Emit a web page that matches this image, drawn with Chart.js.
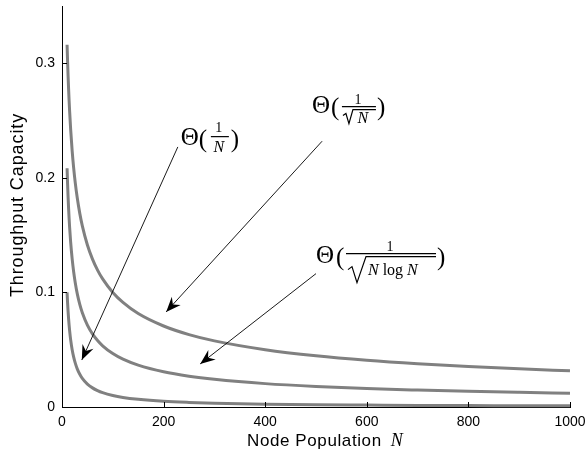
<!DOCTYPE html>
<html lang="en">
<head>
    <meta charset="UTF-8">
    <title>Throughput Capacity vs Node Population</title>
    <script src="https://cdn.jsdelivr.net/npm/chart.js"></script>
    <style>
        html, body { margin: 0; padding: 0; background: #fff; }
        #wrap { width: 588px; height: 454px; position: relative; }
    </style>
</head>
<body>
<div id="wrap"><canvas id="capacityChart"></canvas></div>

<script>
    // node counts sampled along the x axis
    const nodeCounts = [10, 11, 12, 13, 14, 15, 17, 20, 23, 26, 30, 35, 40, 50, 60, 70, 80, 100,
        120, 150, 200, 250, 300, 400, 500, 600, 700, 800, 900, 1000];

    // Θ(1/√N)
    const capSqrt = [0.3162, 0.3015, 0.2887, 0.2774, 0.2673, 0.2582, 0.2425, 0.2236, 0.2085, 0.1961,
        0.1826, 0.1690, 0.1581, 0.1414, 0.1291, 0.1195, 0.1118, 0.1000, 0.0913, 0.0816, 0.0707,
        0.0632, 0.0577, 0.0500, 0.0447, 0.0408, 0.0378, 0.0354, 0.0333, 0.0316];

    // Θ(1/√(N log N))
    const capSqrtLog = [0.2084, 0.1947, 0.1831, 0.1732, 0.1645, 0.1569, 0.1441, 0.1292, 0.1178, 0.1087,
        0.0990, 0.0896, 0.0823, 0.0715, 0.0638, 0.0580, 0.0534, 0.0466, 0.0417, 0.0365, 0.0307,
        0.0269, 0.0242, 0.0204, 0.0179, 0.0161, 0.0148, 0.0137, 0.0128, 0.0120];

    // Θ(1/N)
    const capInv = [0.1000, 0.0909, 0.0833, 0.0769, 0.0714, 0.0667, 0.0588, 0.0500, 0.0435, 0.0385,
        0.0333, 0.0286, 0.0250, 0.0200, 0.0167, 0.0143, 0.0125, 0.0100, 0.0083, 0.0067, 0.0050,
        0.0040, 0.0033, 0.0025, 0.0020, 0.0017, 0.0014, 0.0013, 0.0011, 0.0010];

    const xTicks = [0, 200, 400, 600, 800, 1000];
    const yTicks = [0, 0.1, 0.2, 0.3];

    // annotation label anchors (data units) and arrows [fromN, fromY, toN, toY]
    const labelInv = [234, 0.229];
    const labelSqrt = [492, 0.257];
    const labelSqrtLog = [500, 0.126];
    const arrowInv = [228, 0.227, 39, 0.041];
    const arrowSqrt = [512, 0.232, 205, 0.083];
    const arrowSqrtLog = [500, 0.1164, 272, 0.0376];

    const toPoints = vals => nodeCounts.map((n, i) => ({ x: n, y: vals[i] }));

    const serif = '"Liberation Serif", "DejaVu Serif", serif';
    const sans = '"Liberation Sans", Arial, sans-serif';

    function drawArrow(ctx, x1, y1, x2, y2) {
        ctx.save();
        ctx.strokeStyle = '#000';
        ctx.fillStyle = '#000';
        ctx.lineWidth = 0.9;
        ctx.beginPath();
        ctx.moveTo(x1, y1);
        ctx.lineTo(x2, y2);
        ctx.stroke();
        const ang = Math.atan2(y2 - y1, x2 - x1);
        ctx.translate(x2, y2);
        ctx.rotate(ang);
        ctx.beginPath();
        ctx.moveTo(0, 0);
        ctx.lineTo(-15, -6);
        ctx.lineTo(-10, 0);
        ctx.lineTo(-15, 6);
        ctx.closePath();
        ctx.fill();
        ctx.restore();
    }

    function hline(ctx, x1, x2, y) {
        ctx.beginPath();
        ctx.moveTo(x1, y);
        ctx.lineTo(x2, y);
        ctx.stroke();
    }

    function drawLabelInv(ctx, x, y) {
        ctx.font = '25px ' + serif;
        ctx.fillText('Θ', x, y);
        ctx.fillText('(', x + 18, y + 2);
        ctx.fillText(')', x + 50, y + 2);
        ctx.textAlign = 'center';
        ctx.font = '14px ' + serif;
        ctx.fillText('1', x + 38, y - 13);
        ctx.font = 'italic 16px ' + serif;
        ctx.fillText('N', x + 38, y + 7);
        ctx.textAlign = 'left';
        hline(ctx, x + 30, x + 48, y - 8);
    }

    function drawLabelSqrt(ctx, x, y) {
        ctx.font = '25px ' + serif;
        ctx.fillText('Θ', x, y);
        ctx.fillText('(', x + 19, y + 2);
        ctx.fillText(')', x + 65, y + 2);
        ctx.textAlign = 'center';
        ctx.font = '14px ' + serif;
        ctx.fillText('1', x + 46, y - 9);
        ctx.font = 'italic 16px ' + serif;
        ctx.fillText('N', x + 51, y + 10);
        ctx.textAlign = 'left';
        hline(ctx, x + 30, x + 64, y - 6);
        ctx.beginPath();
        ctx.moveTo(x + 31, y + 3);
        ctx.lineTo(x + 34, y + 1);
        ctx.lineTo(x + 37, y + 11);
        ctx.lineTo(x + 41, y - 3);
        ctx.lineTo(x + 64, y - 3);
        ctx.stroke();
    }

    function drawLabelSqrtLog(ctx, x, y) {
        ctx.font = '25px ' + serif;
        ctx.fillText('Θ', x, y);
        ctx.fillText('(', x + 20, y + 2);
        ctx.fillText(')', x + 121, y + 2);
        ctx.textAlign = 'center';
        ctx.font = '14px ' + serif;
        ctx.fillText('1', x + 74, y - 12);
        ctx.textAlign = 'left';
        hline(ctx, x + 30, x + 120, y - 9);
        ctx.beginPath();
        ctx.moveTo(x + 32, y + 7);
        ctx.lineTo(x + 36, y + 4);
        ctx.lineTo(x + 41, y + 20);
        ctx.lineTo(x + 50, y - 6);
        ctx.lineTo(x + 120, y - 6);
        ctx.stroke();
        let cx = x + 52;
        const by = y + 12;
        ctx.font = 'italic 16px ' + serif;
        ctx.fillText('N', cx, by);
        cx += ctx.measureText('N').width + 4;
        ctx.font = '16px ' + serif;
        ctx.fillText('log', cx, by);
        cx += ctx.measureText('log').width + 4;
        ctx.font = 'italic 16px ' + serif;
        ctx.fillText('N', cx, by);
    }

    const decorations = {
        id: 'decorations',
        afterDraw(chart) {
            const ctx = chart.ctx;
            const xs = chart.scales.x;
            const ys = chart.scales.y;
            const area = chart.chartArea;
            ctx.save();
            ctx.strokeStyle = '#000';
            ctx.fillStyle = '#000';
            ctx.lineWidth = 1;

            // inward tick marks
            xTicks.forEach(v => {
                const px = Math.round(xs.getPixelForValue(v)) + 0.5;
                ctx.beginPath();
                ctx.moveTo(px, area.bottom);
                ctx.lineTo(px, area.bottom - 5);
                ctx.stroke();
            });
            yTicks.forEach(v => {
                const py = Math.round(ys.getPixelForValue(v)) + 0.5;
                ctx.beginPath();
                ctx.moveTo(area.left, py);
                ctx.lineTo(area.left + 5, py);
                ctx.stroke();
            });

            // axis titles
            ctx.textBaseline = 'alphabetic';
            const t1 = 'Node Population';
            ctx.font = '17px ' + sans;
            ctx.letterSpacing = '0.6px';
            const w1 = ctx.measureText(t1).width;
            ctx.fillText(t1, 247, 446);
            ctx.letterSpacing = '0px';
            ctx.font = 'italic 18px ' + serif;
            ctx.fillText('N', 247 + w1 + 9, 446);

            ctx.save();
            ctx.translate(23, 205);
            ctx.rotate(-Math.PI / 2);
            ctx.font = '18px ' + sans;
            ctx.letterSpacing = '0.9px';
            ctx.textAlign = 'center';
            ctx.fillText('Throughput Capacity', 0, 0);
            ctx.restore();
            ctx.letterSpacing = '0px';

            // arrows
            [arrowInv, arrowSqrt, arrowSqrtLog].forEach(a => {
                drawArrow(ctx, xs.getPixelForValue(a[0]), ys.getPixelForValue(a[1]),
                    xs.getPixelForValue(a[2]), ys.getPixelForValue(a[3]));
            });

            // labels
            ctx.lineWidth = 1.2;
            drawLabelInv(ctx, xs.getPixelForValue(labelInv[0]), ys.getPixelForValue(labelInv[1]));
            drawLabelSqrt(ctx, xs.getPixelForValue(labelSqrt[0]), ys.getPixelForValue(labelSqrt[1]));
            drawLabelSqrtLog(ctx, xs.getPixelForValue(labelSqrtLog[0]), ys.getPixelForValue(labelSqrtLog[1]));
            ctx.restore();
        }
    };

    const lineStyle = {
        borderColor: '#808080',
        borderWidth: 3,
        pointRadius: 0,
        fill: false,
        cubicInterpolationMode: 'monotone',
        clip: false
    };

    new Chart(document.getElementById('capacityChart'), {
        type: 'line',
        data: {
            datasets: [
                Object.assign({ label: 'Θ(1/√N)', data: toPoints(capSqrt) }, lineStyle),
                Object.assign({ label: 'Θ(1/√(N log N))', data: toPoints(capSqrtLog) }, lineStyle),
                Object.assign({ label: 'Θ(1/N)', data: toPoints(capInv) }, lineStyle)
            ]
        },
        options: {
            responsive: true,
            maintainAspectRatio: false,
            animation: false,
            events: [],
            layout: { padding: { top: 6, right: 18, left: 0, bottom: 0 } },
            plugins: { legend: { display: false }, tooltip: { enabled: false } },
            scales: {
                x: {
                    type: 'linear',
                    min: 0,
                    max: 1000,
                    afterBuildTicks: s => { s.ticks = xTicks.map(v => ({ value: v })); },
                    afterFit: s => { s.height = 47; s.paddingLeft = 0; s.paddingRight = 0; },
                    grid: { display: false, drawTicks: false },
                    border: { display: true, color: '#000', width: 1 },
                    ticks: {
                        color: '#000',
                        padding: 7,
                        maxRotation: 0,
                        font: { family: sans, size: 14 },
                        callback: v => String(v)
                    }
                },
                y: {
                    min: 0,
                    max: 0.35,
                    afterBuildTicks: s => { s.ticks = yTicks.map(v => ({ value: v })); },
                    afterFit: s => { s.width = 62; s.paddingTop = 0; s.paddingBottom = 0; },
                    grid: { display: false, drawTicks: false },
                    border: { display: true, color: '#000', width: 1 },
                    ticks: {
                        color: '#000',
                        padding: 7,
                        font: { family: sans, size: 14 },
                        callback: v => String(Math.round(v * 10) / 10)
                    }
                }
            }
        },
        plugins: [decorations]
    });
</script>
</body>
</html>
